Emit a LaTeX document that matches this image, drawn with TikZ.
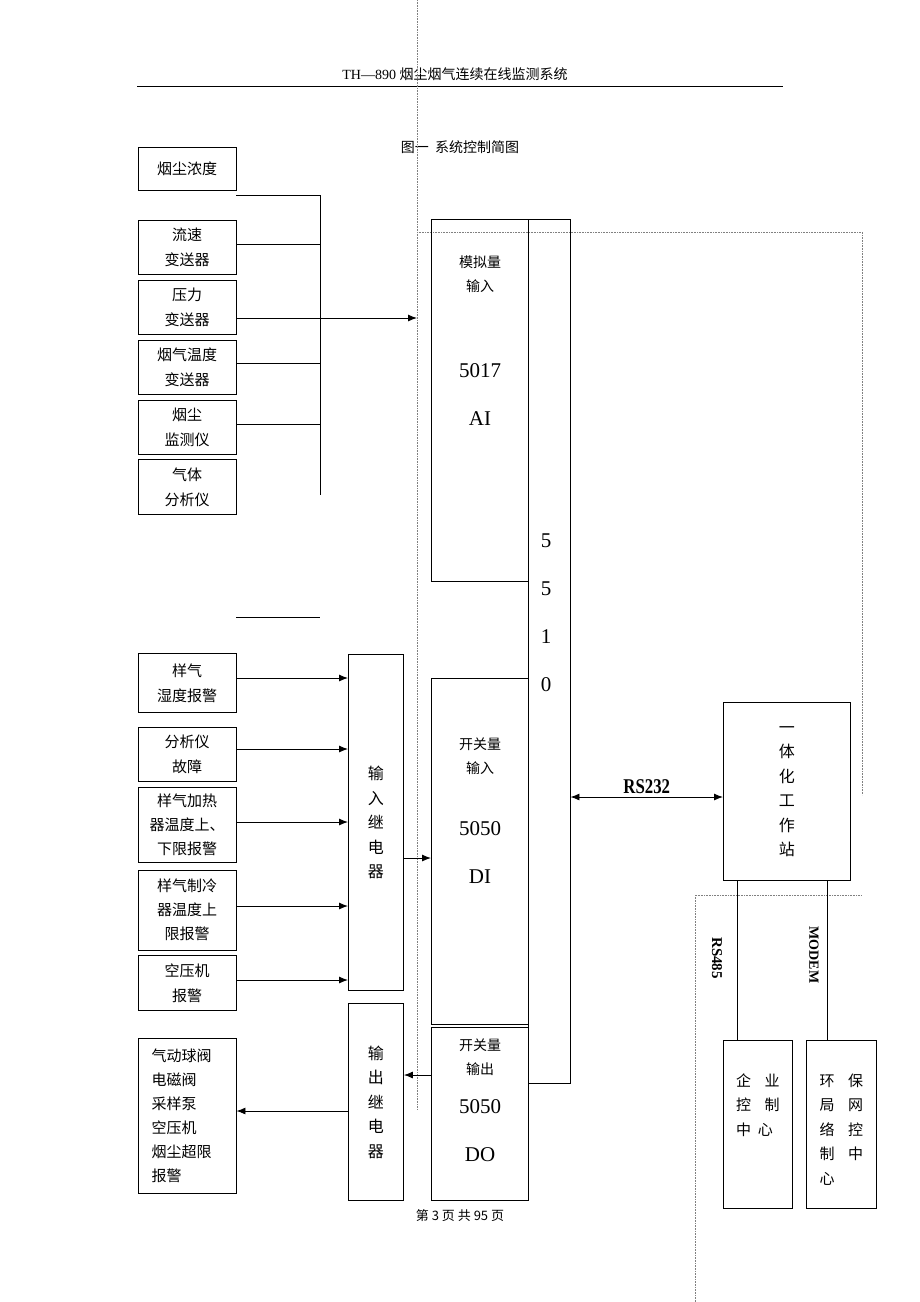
\documentclass[tikz,border=0pt]{standalone}
\usepackage{fontspec}
\setmainfont{Liberation Serif}
\newfontfamily\cjk{Noto Sans CJK SC}
\usetikzlibrary{arrows,arrows.meta,positioning,calc}
\tikzset{
    sbox/.style={
        draw=black,
        line width=0.9pt,
        align=center,
        inner sep=0pt,
        font=\cjk\fontsize{15}{25}\selectfont,
    },
    wire/.style={
        line width=0.9pt,
    },
    dotline/.style={
        densely dotted,
        line width=0.6pt,
        draw=gray,
    },
    vtext/.style={
        align=center,
        font=\cjk\fontsize{16}{24.5}\selectfont,
    },
}
\begin{document}
\begin{tikzpicture}[x=1pt,y=-1pt,>={Latex[length=9pt,width=7pt]}]
\useasboundingbox (0,0) rectangle (920,1302);

% header
\node (head) at (455,74) {\fontsize{14}{16}\selectfont TH---890 \cjk 烟尘烟气连续在线监测系统};
\draw [wire] (137,86) -- (783,86);
\node (cap) at (460,147) {\cjk\fontsize{14}{16}\selectfont 图一\ \ 系统控制简图};
\node (foot) at (460,1216) {\fontsize{13}{16}\selectfont\cjk 第 3 页 共 95 页};

% dotted frames
\draw [dotline] (417,0) -- (417,1110);
\draw [dotline] (417,232) -- (862,232) -- (862,795);
\draw [dotline] (695,1302) -- (695,895) -- (862,895);

% analog sensors
\node [sbox, minimum width=98pt, minimum height=43pt] (a_1) at (187,169) {烟尘浓度};
\node [sbox, minimum width=98pt, minimum height=54pt] (a_2) at (187,247) {流速\\变送器};
\node [sbox, minimum width=98pt, minimum height=54pt] (a_3) at (187,307) {压力\\变送器};
\node [sbox, minimum width=98pt, minimum height=54pt] (a_4) at (187,367) {烟气温度\\变送器};
\node [sbox, minimum width=98pt, minimum height=54pt] (a_5) at (187,427) {烟尘\\监测仪};
\node [sbox, minimum width=98pt, minimum height=55pt] (a_6) at (187,487) {气体\\分析仪};

% analog bus
\coordinate (bus_t) at (320,195);
\coordinate (bus_b) at (320,495);
\coordinate (ai_in) at (417,318);
\draw [wire] (a_1.east |- bus_t) -- (bus_t) -- (bus_b);
\draw [wire] (a_2.east |- 0,244) -- (bus_t |- 0,244);
\draw [wire] (a_4.east |- 0,363) -- (bus_t |- 0,363);
\draw [wire] (a_5.east |- 0,424) -- (bus_t |- 0,424);
\draw [wire,->] (a_3.east |- ai_in) -- (ai_in);
\draw [wire] (236,617) -- (320,617);

% 5510 frame and modules
\node [sbox, minimum width=42pt, minimum height=864pt] (cpu) at (549,651) {};
\node [font=\fontsize{21}{48}\selectfont, align=center] (cpu_lab) at (546,613) {5\\5\\1\\0};
\node [sbox, minimum width=97pt, minimum height=362pt, anchor=north west] (ai) at (431,219) {};
\node [sbox, minimum width=97pt, minimum height=346pt, anchor=north west] (di) at (431,678) {};
\node [sbox, minimum width=97pt, minimum height=173pt, anchor=north west] (do) at (431,1027) {};
\node [align=center, font=\cjk\fontsize{14}{24}\selectfont] at (480,274) {模拟量\\输入};
\node [align=center, font=\fontsize{21}{48}\selectfont] at (480,395) {5017\\AI};
\node [align=center, font=\cjk\fontsize{14}{24}\selectfont] at (480,756) {开关量\\输入};
\node [align=center, font=\fontsize{21}{48}\selectfont] at (480,853) {5050\\DI};
\node [align=center, font=\cjk\fontsize{14}{24}\selectfont] at (480,1057) {开关量\\输出};
\node [align=center, font=\fontsize{21}{48}\selectfont] at (480,1131) {5050\\DO};

% relays
\node [sbox, minimum width=55pt, minimum height=336pt, anchor=north west] (rin) at (348,654) {};
\node [vtext] at (rin) {输\\入\\继\\电\\器};
\node [sbox, minimum width=55pt, minimum height=197pt, anchor=north west] (rout) at (348,1003) {};
\node [vtext] at (rout) {输\\出\\继\\电\\器};

% switch inputs
\node [sbox, minimum width=98pt, minimum height=59pt] (d_1) at (187,683) {样气\\湿度报警};
\node [sbox, minimum width=98pt, minimum height=54pt] (d_2) at (187,754) {分析仪\\故障};
\node [sbox, minimum width=98pt, minimum height=75pt, font=\cjk\fontsize{15}{24}\selectfont] (d_3) at (187,825) {样气加热\\器温度上、\\下限报警};
\node [sbox, minimum width=98pt, minimum height=80pt, font=\cjk\fontsize{15}{24}\selectfont] (d_4) at (187,910) {样气制冷\\器温度上\\限报警};
\node [sbox, minimum width=98pt, minimum height=55pt] (d_5) at (187,983) {空压机\\报警};
\foreach \i/\y in {1/678,2/749,3/822,4/906,5/980}
    \draw [wire,->] (d_\i.east |- 0,\y) -- (rin.west |- 0,\y);
\draw [wire,->] (rin.east |- 0,858) -- (di.west |- 0,858);

% outputs
\node [sbox, minimum width=98pt, minimum height=155pt] (o_1) at (187,1116) {};
\node [align=left, font=\cjk\fontsize{15}{24}\selectfont, anchor=west] at (148,1116) {气动球阀\\电磁阀\\采样泵\\空压机\\烟尘超限\\报警};
\draw [wire,->] (do.west |- 0,1075) -- (rout.east |- 0,1075);
\draw [wire,->] (rout.west |- 0,1111) -- (o_1.east |- 0,1111);

% workstation and centres
\node [sbox, minimum width=127pt, minimum height=178pt, anchor=north west] (ws) at (723,702) {};
\node [vtext] at (ws) {一\\体\\化\\工\\作\\站};
\draw [wire,<->] (cpu.east |- 0,797) -- (ws.west |- 0,797)
    node [midway, above=0pt, font=\bfseries\fontsize{21}{22}\selectfont, xscale=0.8] {RS232};
\node [sbox, minimum width=69pt, minimum height=168pt, anchor=north west] (c_1) at (723,1040) {};
\node [align=left, anchor=north, font=\cjk\fontsize{15}{24.5}\selectfont] at ([yshift=-30pt]c_1.north) {企\ \ \ \ 业\\控\ \ \ \ 制\\中\ \ 心};
\node [sbox, minimum width=70pt, minimum height=168pt, anchor=north west] (c_2) at (806,1040) {};
\node [align=left, anchor=north, font=\cjk\fontsize{15}{24.5}\selectfont] at ([yshift=-30pt]c_2.north) {环\ \ \ \ 保\\局\ \ \ \ 网\\络\ \ \ \ 控\\制\ \ \ \ 中\\心};
\draw [wire] (ws.south -| 737,0) -- (c_1.north -| 737,0);
\draw [wire] (ws.south -| 827,0) -- (c_2.north -| 827,0);
\node [rotate=-90, font=\bfseries\fontsize{15}{16}\selectfont] (l_485) at (717,958) {RS485};
\node [rotate=-90, font=\bfseries\fontsize{14}{16}\selectfont] (l_mod) at (814,955) {MODEM};

\end{tikzpicture}
\end{document}
